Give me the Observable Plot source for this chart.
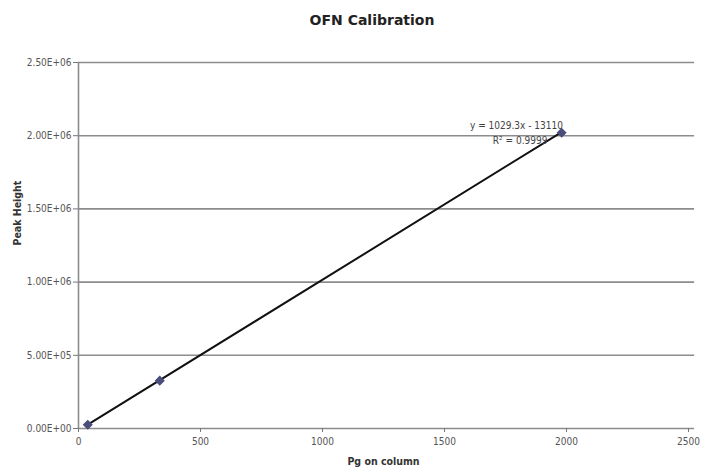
<!DOCTYPE html>
<html>
<head>
<meta charset="utf-8">
<script src="https://cdn.jsdelivr.net/npm/d3@7"></script>
<script src="https://cdn.jsdelivr.net/npm/@observablehq/plot@0.6"></script>
<style>
  html, body { margin: 0; padding: 0; background: #fff; }
  #title {
    width: 706px; height: 40px; line-height: 40px; text-align: center;
    font-family: Verdana, "DejaVu Sans", sans-serif; font-weight: bold; font-size: 14px;
    color: #222; box-sizing: border-box; padding-left: 38px;
  }
</style>
</head>
<body>
<div id="title">OFN Calibration</div>
<div id="chart"></div>
<script>
// Calibration standards: amount on column (pg) and measured peak height
const amounts = [38, 333, 1980];
const peakHeights = [26000, 327000, 2020000];

// Linear fit reported for the series
const slope = 1029.3;
const intercept = -13110;
const r2 = 0.9999;

const xTicks = [0, 500, 1000, 1500, 2000, 2500];
const yTicks = [0, 500000, 1000000, 1500000, 2000000, 2500000];
const yTickLabels = ["0.00E+00", "5.00E+05", "1.00E+06", "1.50E+06", "2.00E+06", "2.50E+06"];

const points = amounts.map((x, i) => ({x, y: peakHeights[i]}));
const xMin = d3.min(amounts), xMax = d3.max(amounts);
const fit = [xMin, xMax].map(x => ({x, y: slope * x + intercept}));

const font = `"Liberation Sans Narrow", "Arial Narrow", "DejaVu Sans Condensed", sans-serif`;

const chart = Plot.plot({
  width: 706,
  height: 428,
  marginLeft: 78,
  marginRight: 18,
  marginTop: 22,
  marginBottom: 40,
  style: {fontFamily: font, fontSize: "10px", color: "#555", background: "#fff"},
  x: {domain: [0, 2500], ticks: xTicks, label: null},
  y: {domain: [0, 2500000], ticks: yTicks, label: null},
  marks: [
    Plot.ruleY(yTicks.slice(1), {x1: 0, x2: 2525, stroke: "#8c8c8c", strokeWidth: 1.6, clip: false}),
    Plot.ruleX([0], {stroke: "#8c8c8c", strokeWidth: 1.6}),
    Plot.ruleY([0], {x1: 0, x2: 2525, stroke: "#8c8c8c", strokeWidth: 1.6, clip: false}),
    Plot.axisY({ticks: yTicks, tickFormat: (d, i) => yTickLabels[i], tickSize: 5, tickPadding: 2, stroke: "#777", fill: "#555", label: null}),
    Plot.axisX({ticks: xTicks, tickFormat: d3.format("d"), tickSize: 4, tickPadding: 5, stroke: "#777", fill: "#555", label: null}),
    Plot.line(fit, {x: "x", y: "y", stroke: "#111", strokeWidth: 2}),
    Plot.dot(points, {x: "x", y: "y", symbol: "diamond2", r: 3.6, fill: "#4b4d7c", stroke: "#4b4d7c"}),
    Plot.text([`y = ${slope}x - ${Math.abs(intercept)}`], {x: 1795, y: 2068000, fill: "#444", fontSize: 10}),
    Plot.text([`R² = ${r2}`], {x: 1810, y: 1968000, fill: "#444", fontSize: 10}),
    Plot.text(["Pg on column"], {frameAnchor: "bottom", dy: 36, fill: "#333", fontWeight: "bold", fontSize: 10.5}),
    Plot.text(["Peak Height"], {frameAnchor: "left", dx: -61, rotate: -90, fill: "#333", fontWeight: "bold", fontSize: 10.5})
  ]
});
document.getElementById("chart").appendChild(chart);
</script>
</body>
</html>
